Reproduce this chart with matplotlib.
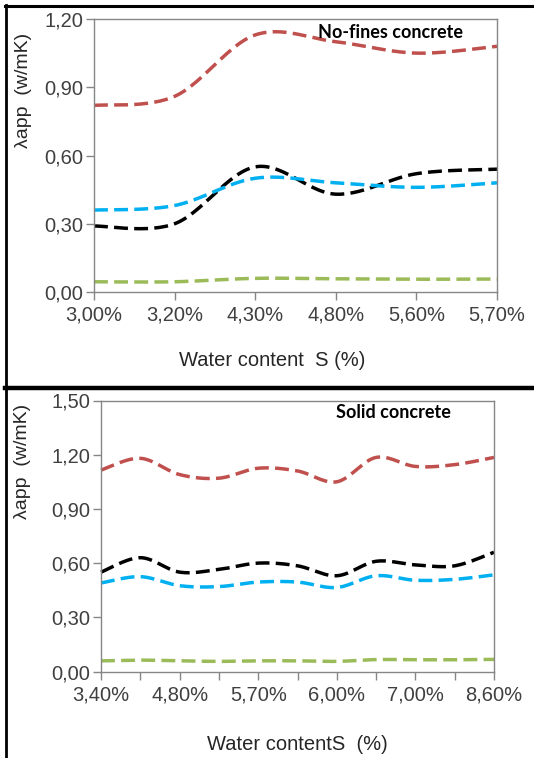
import matplotlib
matplotlib.use('Agg')
import matplotlib.pyplot as plt
import numpy as np
from matplotlib.lines import Line2D

plt.rcParams['font.family'] = ['Liberation Sans', 'DejaVu Sans']

# top panel: no-fines concrete
top_labels = ['3,00%', '3,20%', '4,30%', '4,80%', '5,60%', '5,70%']
top_red = [0.82, 0.86, 1.13, 1.10, 1.05, 1.08]
top_black = [0.29, 0.30, 0.55, 0.43, 0.52, 0.54]
top_blue = [0.36, 0.38, 0.50, 0.48, 0.46, 0.48]
top_green = [0.045, 0.045, 0.060, 0.058, 0.056, 0.057]

# bottom panel: solid concrete (only every other category is labelled)
bot_labels = ['3,40%', '', '4,80%', '', '5,70%', '', '6,00%', '', '7,00%', '', '8,60%']
bot_red = [1.115, 1.18, 1.09, 1.07, 1.125, 1.11, 1.05, 1.185, 1.135, 1.145, 1.185]
bot_black = [0.55, 0.63, 0.55, 0.565, 0.60, 0.585, 0.53, 0.61, 0.59, 0.585, 0.66]
bot_blue = [0.49, 0.525, 0.475, 0.47, 0.495, 0.495, 0.465, 0.53, 0.505, 0.51, 0.535]
bot_green = [0.059, 0.063, 0.059, 0.056, 0.059, 0.059, 0.056, 0.066, 0.065, 0.065, 0.067]

colors = ['#C0504D', '#000000', '#00B0F0', '#9BBB59']
tick_col = '#404040'
spine_col = '#868686'


def smooth(y, n=30):
    # excel-like smoothed line (catmull-rom bezier) for drawing only
    x = np.arange(len(y), dtype=float)
    y = np.asarray(y, dtype=float)
    px = np.concatenate([[x[0]], x, [x[-1]]])
    py = np.concatenate([[y[0]], y, [y[-1]]])
    xs, ys = [], []
    t = np.linspace(0, 1, n)
    for i in range(1, len(px) - 2):
        p0 = np.array([px[i], py[i]])
        p3 = np.array([px[i + 1], py[i + 1]])
        c1 = p0 + (np.array([px[i + 1], py[i + 1]]) - np.array([px[i - 1], py[i - 1]])) / 6
        c2 = p3 - (np.array([px[i + 2], py[i + 2]]) - np.array([px[i], py[i]])) / 6
        b = ((1 - t) ** 3)[:, None] * p0 + (3 * (1 - t) ** 2 * t)[:, None] * c1 \
            + (3 * (1 - t) * t ** 2)[:, None] * c2 + (t ** 3)[:, None] * p3
        xs.extend(b[:, 0])
        ys.extend(b[:, 1])
    return np.array(xs), np.array(ys)


def draw_panel(ax, labels, series, ymax, title, title_xy):
    for vals, c in zip(series, colors):
        sx, sy = smooth(vals)
        ax.plot(sx, sy, color=c, lw=2.5, dashes=(4, 1.8), solid_capstyle='butt', clip_on=False)
    n = len(labels)
    ax.set_xlim(0, n - 1)
    ax.set_ylim(0, ymax)
    yt = np.arange(0, ymax + 0.001, 0.3)
    ax.set_yticks(yt)
    ax.set_yticklabels([('%.2f' % v).replace('.', ',') for v in yt])
    ax.set_xticks(range(n))
    ax.set_xticklabels(labels)
    for s in ax.spines.values():
        s.set_color(spine_col)
        s.set_linewidth(1.0)
    ax.tick_params(axis='both', colors=spine_col, labelcolor=tick_col, labelsize=14.5,
                   length=6, width=1.0, direction='out')
    ax.tick_params(axis='x', pad=4)
    ax.tick_params(axis='y', pad=2)
    ax.text(title_xy[0], title_xy[1], title, transform=ax.transAxes, family='Lato',
            fontweight='bold', fontsize=13, color='black', ha='center', va='center')


W, H = 534, 758
fig = plt.figure(figsize=(W / 100, H / 100), dpi=100)


def box(l, t, r, b):
    return [l / W, 1 - b / H, (r - l) / W, (b - t) / H]


ax1 = fig.add_axes(box(94, 19, 497, 292))
draw_panel(ax1, top_labels, [top_red, top_black, top_blue, top_green], 1.2,
           'No-fines concrete', (0.735, 0.95))
ax2 = fig.add_axes(box(101, 400.5, 494, 671.5))
draw_panel(ax2, bot_labels, [bot_red, bot_black, bot_blue, bot_green], 1.5,
           'Solid concrete', (0.745, 0.955))

fig.text(24 / W, 1 - 90 / H, 'λapp  (w/mK)', rotation=90, ha='center', va='center',
         fontsize=14, color='#262626')
fig.text(23 / W, 1 - 461 / H, 'λapp  (w/mK)', rotation=90, ha='center', va='center',
         fontsize=14, color='#262626')
fig.text(272 / W, 1 - 361 / H, 'Water content  S (%)', ha='center', va='center',
         fontsize=14.5, color='#262626')
fig.text(297 / W, 1 - 744 / H, 'Water contentS  (%)', ha='center', va='center',
         fontsize=14.5, color='#262626')

# panel frames
fig.add_artist(Line2D([6 / W, 6 / W], [1 - 5 / H, 0], color='black', lw=2.0, transform=fig.transFigure))
fig.add_artist(Line2D([5 / W, 1], [1 - 5.5 / H, 1 - 5.5 / H], color='black', lw=2.2, transform=fig.transFigure))
fig.add_artist(Line2D([5 / W, 1], [1 - 388 / H, 1 - 388 / H], color='black', lw=3.2, transform=fig.transFigure))

fig.savefig('out.png', dpi=100)
